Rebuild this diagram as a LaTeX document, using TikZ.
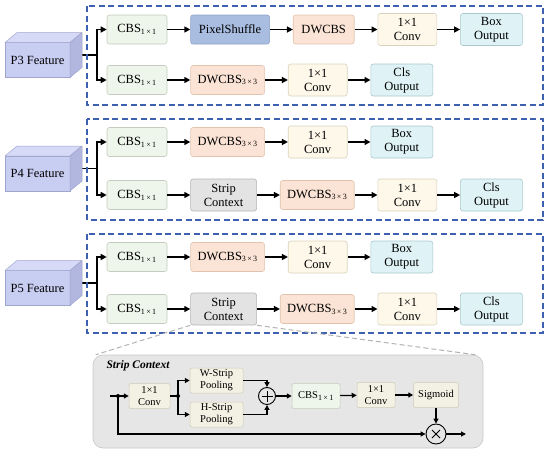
\documentclass[tikz,border=0pt]{standalone}
\usepackage{fontspec}
\setmainfont{Liberation Serif}
\usetikzlibrary{arrows.meta,positioning}

\definecolor{cbsfill}{HTML}{EEF5EA}
\definecolor{cbsline}{HTML}{C3CCBE}
\definecolor{pixfill}{HTML}{A9BDE1}
\definecolor{pixline}{HTML}{8DA1C8}
\definecolor{dwfill}{HTML}{FBE4D5}
\definecolor{dwline}{HTML}{E2C3B0}
\definecolor{convfill}{HTML}{FDF8EA}
\definecolor{convline}{HTML}{D9D2BC}
\definecolor{outfill}{HTML}{DFF3F6}
\definecolor{outdraw}{HTML}{A8C8CD}
\definecolor{stripfill}{HTML}{E3E3E3}
\definecolor{stripline}{HTML}{B4B4B4}
\definecolor{cubefront}{HTML}{C8CDF2}
\definecolor{cubetop}{HTML}{D7DAF6}
\definecolor{cubeside}{HTML}{B2B7E0}
\definecolor{cubeline}{HTML}{A0A5CE}
\definecolor{headblue}{HTML}{3D60B0}
\definecolor{panelfill}{HTML}{E6E6E6}
\definecolor{panelline}{HTML}{C8C8C8}
\definecolor{scfill}{HTML}{F3F1E3}
\definecolor{scline}{HTML}{CFCAB6}

\newcommand{\ksub}[1]{\textsubscript{\fontsize{8}{8}\selectfont #1}}

\begin{document}
\begin{tikzpicture}[
  x=1pt, y=-1pt,
  node distance=23pt,
  blk/.style={rectangle, rounded corners=2.5pt, line width=0.6pt,
              minimum height=29pt, inner sep=2pt, align=center,
              font=\fontsize{12.5}{14}\selectfont},
  cbs/.style={blk, fill=cbsfill, draw=cbsline, minimum width=60pt},
  pix/.style={blk, fill=pixfill, draw=pixline, minimum width=79pt},
  dw/.style={blk, fill=dwfill, draw=dwline, minimum width=61pt},
  dwk/.style={dw, minimum width=74pt},
  conv/.style={blk, fill=convfill, draw=convline, minimum width=59pt, minimum height=32pt},
  outp/.style={blk, fill=outfill, draw=outdraw, minimum width=62pt, minimum height=32pt},
  strip/.style={blk, fill=stripfill, draw=stripline, minimum width=66pt, minimum height=32pt},
  front/.style={rectangle, fill=cubefront, draw=cubeline, line width=0.5pt,
                minimum width=65pt, minimum height=35pt, outer sep=0pt,
                font=\fontsize{12.5}{14}\selectfont},
  face/.style={draw=cubeline, line width=0.5pt, line join=round},
  wire/.style={line width=1.5pt},
  arr/.style={-{Triangle[length=6pt,width=6pt]}, line width=1.5pt},
  grp/.style={draw=headblue, dash pattern=on 6pt off 3.5pt, line width=1.2pt},
  zoomln/.style={draw=gray!60, dash pattern=on 5pt off 3pt, line width=1pt},
  panel/.style={rectangle, rounded corners=10pt, fill=panelfill, draw=panelline,
                line width=0.6pt, minimum width=390pt, minimum height=93pt},
  sblk/.style={rectangle, rounded corners=2pt, line width=0.5pt, draw=scline,
               fill=scfill, inner sep=1.5pt, align=center, minimum height=25pt,
               font=\fontsize{10.5}{12}\selectfont},
  sarr/.style={-{Triangle[length=5pt,width=5pt]}, line width=1.3pt},
  plus/.style={circle, draw, line width=0.9pt, minimum size=17pt, inner sep=0pt,
               path picture={\draw[line width=0.9pt]
                 ([yshift=-3pt]path picture bounding box.north) -- ([yshift=3pt]path picture bounding box.south)
                 ([xshift=3pt]path picture bounding box.west) -- ([xshift=-3pt]path picture bounding box.east);}},
  times/.style={circle, draw, line width=0.9pt, minimum size=20pt, inner sep=0pt,
               path picture={\draw[line width=0.9pt]
                 ([shift={(-6pt,-6pt)}]path picture bounding box.north east) -- ([shift={(6pt,6pt)}]path picture bounding box.south west)
                 ([shift={(6pt,-6pt)}]path picture bounding box.north west) -- ([shift={(-6pt,6pt)}]path picture bounding box.south east);}}
]
\useasboundingbox (0,0) rectangle (550,455);

% feature cubes
\foreach \nm/\lab/\yy in {p3/P3/55, p4/P4/168.5, p5/P5/283}{
  \node[front] (\nm) at (37.5,\yy+5) {\lab\ Feature};
  \coordinate (\nm br) at (97,\yy);
  \draw[wire] (\nm.east |- \nm br) -- (\nm br);
  \draw[face, fill=cubetop] (\nm.north west) -- ++(12,-10) -- ++(65,0) -- (\nm.north east) -- cycle;
  \draw[face, fill=cubeside] (\nm.north east) -- ++(12,-10) -- ++(0,35) -- (\nm.south east) -- cycle;
}

% P3 head
\node[cbs] (p3a1) at (137,29.5) {CBS\ksub{1\,×\,1}};
\node[pix, right=of p3a1] (p3a2) {PixelShuffle};
\node[dw, right=of p3a2] (p3a3) {DWCBS};
\node[conv, right=of p3a3] (p3a4) {1×1\\Conv};
\node[outp, right=of p3a4] (p3a5) {Box\\Output};
\node[cbs] (p3b1) at (137,80) {CBS\ksub{1\,×\,1}};
\node[dwk, right=of p3b1] (p3b2) {DWCBS\ksub{3\,×\,3}};
\node[conv, right=of p3b2] (p3b3) {1×1\\Conv};
\node[outp, right=of p3b3] (p3b4) {Cls\\Output};

% P4 head
\node[cbs] (p4a1) at (137,142) {CBS\ksub{1\,×\,1}};
\node[dwk, right=of p4a1] (p4a2) {DWCBS\ksub{3\,×\,3}};
\node[conv, right=of p4a2] (p4a3) {1×1\\Conv};
\node[outp, right=of p4a3] (p4a4) {Box\\Output};
\node[cbs] (p4b1) at (137,195) {CBS\ksub{1\,×\,1}};
\node[strip, right=of p4b1] (p4b2) {Strip\\Context};
\node[dwk, right=of p4b2] (p4b3) {DWCBS\ksub{3\,×\,3}};
\node[conv, right=of p4b3] (p4b4) {1×1\\Conv};
\node[outp, right=of p4b4] (p4b5) {Cls\\Output};

% P5 head
\node[cbs] (p5a1) at (137,257) {CBS\ksub{1\,×\,1}};
\node[dwk, right=of p5a1] (p5a2) {DWCBS\ksub{3\,×\,3}};
\node[conv, right=of p5a2] (p5a3) {1×1\\Conv};
\node[outp, right=of p5a3] (p5a4) {Box\\Output};
\node[cbs] (p5b1) at (137,309) {CBS\ksub{1\,×\,1}};
\node[strip, right=of p5b1] (p5b2) {Strip\\Context};
\node[dwk, right=of p5b2] (p5b3) {DWCBS\ksub{3\,×\,3}};
\node[conv, right=of p5b3] (p5b4) {1×1\\Conv};
\node[outp, right=of p5b4] (p5b5) {Cls\\Output};

\foreach \nm in {p3,p4,p5}{
  \draw[arr] (\nm br) |- (\nm a1);
  \draw[arr] (\nm br) |- (\nm b1);
}
\foreach \r/\n in {p3a/4, p3b/3, p4a/3, p4b/4, p5a/3, p5b/4}
  \foreach \i [count=\j from 2] in {1,...,\n}
    \draw[arr] (\r\i) -- (\r\j);

% dashed head frames
\draw[grp] (87,6) rectangle (543,105);
\draw[grp] (87,119) rectangle (543,220);
\draw[grp] (87,234) rectangle (543,333);

% strip context detail
\node[panel] (sc) at (288,401.5) {};
\draw[zoomln] (p5b2.south west) -- ([xshift=3pt]sc.north west);
\draw[zoomln] (p5b2.south east) -- ([xshift=-8pt]sc.north east);
\node[anchor=west, font=\fontsize{11.5}{13}\selectfont\bfseries\itshape] (sctitle) at (103,366) {Strip Context};

\node[sblk, minimum width=41pt] (c1) at (149.5,396) {1×1\\Conv};
\node[sblk, minimum width=53pt] (wp) at (216.5,380.5) {W-Strip\\Pooling};
\node[sblk, minimum width=53pt] (hp) at (216.5,414.5) {H-Strip\\Pooling};
\node[plus] (add) at (267,396) {};
\node[sblk, fill=cbsfill, draw=cbsline, minimum width=48pt] (cbs) at (316,396) {CBS\ksub{1\,×\,1}};
\node[sblk, minimum width=38pt] (c2) at (376,395) {1×1\\Conv};
\node[sblk, minimum width=45pt] (sig) at (436,395) {Sigmoid};
\node[times] (mul) at (436,434) {};
\coordinate (in) at (110,396);
\coordinate (split) at (118,396);
\coordinate (fork) at (178,396);
\coordinate (out) at (466,434);

\draw[sarr] (in) -- (c1);
\draw[line width=1.3pt] (c1) -- (fork);
\draw[sarr] (fork) |- (wp);
\draw[sarr] (fork) |- (hp);
\draw[sarr] (wp) -| (add);
\draw[sarr] (hp) -| (add);
\draw[sarr] (add) -- (cbs);
\draw[sarr] (cbs) -- (c2);
\draw[sarr] (c2) -- (sig);
\draw[sarr] (sig) -- (mul);
\draw[sarr] (split) |- (mul);
\draw[sarr] (mul) -- (out);
\fill (split) circle (2pt);
\fill (fork) circle (2pt);
\end{tikzpicture}
\end{document}
